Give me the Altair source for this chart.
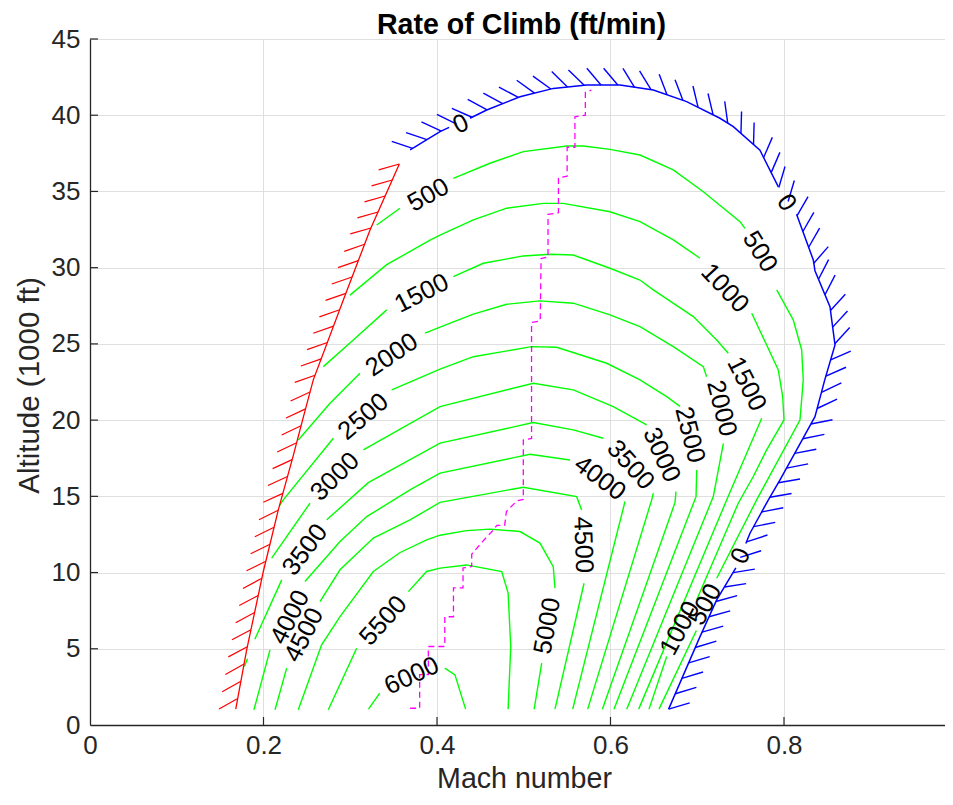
import altair as alt
import pandas as pd
import numpy as np

FONT = "Liberation Sans"

# ---------------- data (Mach number, altitude in 1000 ft) ----------------
# contour lines, split where the inline labels sit
c500 = [
    [(0.3305, 32.8), (0.3573, 33.9)],
    [(0.4188, 35.86), (0.4611, 36.85), (0.4995, 37.61), (0.5495, 37.98), (0.5687, 37.98),
     (0.5994, 37.76), (0.634, 37.39), (0.6724, 36.41), (0.707, 34.98), (0.7493, 33.02), (0.755, 32.58)],
    [(0.7916, 28.54), (0.8107, 26.57), (0.8204, 24.6), (0.8222, 22.64), (0.8184, 20.01),
     (0.7685, 14.77), (0.7224, 9.63)],
    [(0.699, 6.2), (0.6559, 1.04)],
]
c1000 = [
    [(0.2997, 28.2), (0.342, 30.2), (0.392, 31.8), (0.4035, 32.14), (0.4419, 33.13), (0.4803, 33.9),
     (0.5225, 34.22), (0.5456, 34.22), (0.5994, 33.67), (0.634, 33.02), (0.6724, 31.82), (0.7032, 30.62)],
    [(0.7628, 27.01), (0.78, 24.93), (0.7934, 23.29), (0.7985, 21.54), (0.80, 20.01), (0.78, 18.05),
     (0.7646, 16.3), (0.7473, 14.55), (0.6994, 8.21)],
    [(0.6648, 4.49), (0.6444, 1.04)],
]
c1500 = [
    [(0.269, 23.51), (0.3035, 25.26), (0.342, 27.23)],
    [(0.4188, 29.41), (0.4534, 30.29), (0.4995, 30.77), (0.5303, 30.88), (0.5571, 30.83), (0.5994, 29.96),
     (0.634, 29.19), (0.6493, 28.54), (0.6955, 26.79), (0.7224, 25.26), (0.7358, 24.39)],
    [(0.7743, 20.12), (0.734, 14.77), (0.6325, 1.04)],
]
c2000 = [
    [(0.2401, 18.7), (0.2767, 21.1), (0.3112, 23.08)],
    [(0.3862, 25.7), (0.4035, 26.1), (0.4419, 26.95), (0.4803, 27.6), (0.5187, 27.82), (0.5571, 27.67),
     (0.5994, 26.9), (0.634, 26.13), (0.6724, 24.82), (0.707, 23.51), (0.7108, 22.85)],
    [(0.7301, 18.48), (0.7185, 14.98), (0.6187, 1.04)],
]
c2500 = [
    [(0.2182, 14.37), (0.2228, 14.77), (0.2805, 18.81)],
    [(0.3478, 21.98), (0.4035, 23.35), (0.4419, 24.16), (0.5091, 24.82), (0.538, 24.78), (0.5956, 23.73),
     (0.634, 22.64), (0.6648, 21.54), (0.6801, 20.9)],
    [(0.6994, 16.73), (0.6986, 14.98), (0.604, 1.04)],
]
c3000 = [
    [(0.2094, 10.95), (0.2536, 14.55)],
    [(0.3151, 18.05), (0.4035, 20.89), (0.511, 22.42), (0.5571, 21.98), (0.6032, 20.89), (0.6417, 19.69)],
    [(0.6755, 15.31), (0.6744, 14.6), (0.5906, 1.04)],
]
c3500 = [
    [(0.178, 3.84), (0.1815, 4.35)],
    [(0.19, 5.63), (0.221, 9.52)],
    [(0.2729, 13.46), (0.3208, 15.9), (0.4035, 18.49), (0.511, 19.84), (0.5571, 19.36), (0.5917, 18.81)],
    [(0.6494, 15.2), (0.6475, 14.77), (0.5737, 1.04)],
]
c4000 = [
    [(0.189, 1.0), (0.2075, 4.93)],
    [(0.2478, 9.41), (0.2882, 12.03), (0.319, 13.67), (0.3689, 15.42), (0.4035, 16.52), (0.5072, 17.76),
     (0.5533, 17.38)],
    [(0.6167, 14.66), (0.5564, 1.04)],
]
c4500 = [
    [(0.2133, 1.0), (0.2267, 3.73)],
    [(0.2651, 8.1), (0.2882, 10.18), (0.3266, 12.26), (0.3689, 13.46), (0.4035, 14.6), (0.4995, 15.6),
     (0.561, 14.98), (0.5667, 14.1)],
    [(0.5695, 9.3), (0.536, 1.04)],
]
c5000 = [
    [(0.2401, 1.0), (0.267, 5.26), (0.2882, 7.11), (0.3266, 10.07), (0.357, 11.3), (0.388, 12.15),
     (0.4035, 12.45), (0.434, 12.75), (0.461, 12.85), (0.4957, 12.69), (0.5187, 11.93), (0.534, 10.39),
     (0.536, 8.98)],
    [(0.5207, 4.06), (0.512, 1.04)],
]
c5500 = [
    [(0.2747, 1.0), (0.3074, 5.04)],
    [(0.367, 8.75), (0.388, 10.07), (0.4035, 10.29), (0.434, 10.5), (0.4746, 10.07), (0.482, 8.65),
     (0.485, 5.15), (0.482, 1.04)],
]
c6000 = [
    [(0.321, 1.04), (0.334, 2.09)],
    [(0.409, 3.73), (0.4207, 3.29), (0.433, 1.04)],
]
contours = {500: c500, 1000: c1000, 1500: c1500, 2000: c2000, 2500: c2500, 3000: c3000,
            3500: c3500, 4000: c4000, 4500: c4500, 5000: c5000, 5500: c5500, 6000: c6000}

# zero rate-of-climb boundary (blue), split at its three "0" labels
zero_line = [
    [(0.369, 37.72), (0.4035, 38.92), (0.414, 39.2)],
    [(0.438, 39.8), (0.4573, 40.34), (0.4957, 41.21), (0.5341, 41.76), (0.5726, 41.98), (0.611, 41.98),
     (0.6494, 41.65), (0.6878, 40.89), (0.7262, 39.8), (0.7416, 39.25), (0.7723, 37.7), (0.7935, 35.3)],
    [(0.8145, 33.5), (0.8338, 30.5), (0.8357, 29.8), (0.853, 27.44), (0.8588, 24.93), (0.847, 22.64),
     (0.8357, 20.23), (0.8146, 18.05), (0.7954, 16.08), (0.782, 14.77), (0.7608, 12.58), (0.756, 11.9)],
    [(0.7445, 10.3), (0.7224, 8.21), (0.7032, 5.8), (0.667, 1.04)],
]
# stall boundary (red)
stall_line = [(0.168, 1.04), (0.1806, 4.93), (0.1998, 10.07), (0.217, 14.1), (0.234, 17.6), (0.245, 20.0),
              (0.2574, 22.64), (0.292, 27.88), (0.3228, 32.47), (0.3566, 36.8)]
# speed for best climb (magenta, dashed)
best_climb = [(0.369, 1.1), (0.380, 1.1), (0.380, 3.3), (0.390, 3.3), (0.390, 5.15), (0.409, 5.15),
              (0.409, 7.1), (0.419, 7.1), (0.419, 9.0), (0.430, 9.0), (0.430, 10.3), (0.440, 10.4),
              (0.440, 11.2), (0.452, 12.0), (0.465, 12.8), (0.469, 13.1), (0.478, 13.1), (0.480, 14.0),
              (0.492, 14.7), (0.4995, 14.8), (0.4995, 18.7), (0.509, 18.8), (0.509, 26.4), (0.519, 26.5),
              (0.520, 30.6), (0.528, 30.7), (0.528, 33.5), (0.540, 33.6), (0.540, 35.9), (0.550, 36.0),
              (0.550, 37.9), (0.559, 37.9), (0.559, 39.9), (0.571, 40.0), (0.571, 41.5), (0.578, 41.65)]

# contour labels
label_text = ["0", "500", "1500", "2000", "2500", "3000", "3500", "4000", "4500", "5500", "6000",
              "1000", "500", "0", "1500", "2000", "2500", "3000", "3500", "4000", "4500", "5000",
              "1000", "500", "0"]
label_mach = [0.4273, 0.39, 0.3823, 0.3478, 0.3151, 0.2824, 0.2478, 0.2305, 0.2467, 0.3381, 0.3708,
              0.732, 0.7723, 0.8031, 0.757, 0.7282, 0.6916, 0.659, 0.6233, 0.5879, 0.5687, 0.5272,
              0.6801, 0.709, 0.7501]
label_alt = [39.42, 34.77, 28.32, 24.28, 20.23, 16.3, 11.49, 7.07, 5.91, 6.85, 3.23,
             28.65, 31.05, 34.26, 22.37, 20.78, 19.03, 17.72, 17.06, 16.19, 11.82, 6.5,
             6.35, 7.9, 11.1]
label_angle = [335, 331, 333, 326, 320, 315, 307, 297, 297, 312, 335,
               47, 58, 56, 63, 76, 76, 66, 48, 37, 88, 280,
               298, 298, 296]

chart_title = ["Rate of Climb (ft/min)"]
x_ticks = [0, 0.2, 0.4, 0.6, 0.8]
y_ticks = [0, 5, 10, 15, 20, 25, 30, 35, 40, 45]

# ---------------- layout ----------------
W, H = 855, 686
XMAX = 0.9856
YMAX = 45
SX, SY = W / XMAX, H / YMAX


def line_rows(segments, prefix):
    rows = []
    for s, seg in enumerate(segments):
        for k, (m, h) in enumerate(seg):
            rows.append(dict(seg=f"{prefix}{s}", o=k, M=m, h=h))
    return rows


def hatch_rows(pts, spacing, length, rot_deg):
    P = np.array([[m * SX, -h * SY] for m, h in pts], dtype=float)
    d = np.diff(P, axis=0)
    L = np.hypot(d[:, 0], d[:, 1])
    cum = np.concatenate([[0.0], np.cumsum(L)])
    a = np.deg2rad(rot_deg)
    rows = []
    s = cum[-1]
    while s >= 0:
        i = int(np.searchsorted(cum, s, side="right") - 1)
        i = min(max(i, 0), len(L) - 1)
        t = (s - cum[i]) / L[i]
        p = P[i] + t * d[i]
        u = d[i] / L[i]
        v = np.array([u[0] * np.cos(a) - u[1] * np.sin(a), u[0] * np.sin(a) + u[1] * np.cos(a)])
        q = p + length * v
        rows.append(dict(M=p[0] / SX, h=-p[1] / SY, M2=q[0] / SX, h2=-q[1] / SY))
        s -= spacing
    return rows


green_rows = []
for lvl, segs in contours.items():
    green_rows += line_rows(segs, f"c{lvl}_")
df_green = pd.DataFrame(green_rows)
df_blue = pd.DataFrame(line_rows(zero_line, "z"))
df_red = pd.DataFrame(line_rows([stall_line], "s"))
df_mag = pd.DataFrame(line_rows([best_climb], "m"))
blue_full = [p for seg in zero_line for p in seg]
df_bh = pd.DataFrame(hatch_rows(blue_full, 16.8, 22, -130))
df_rh = pd.DataFrame(hatch_rows(stall_line, 17.5, 21.5, -130))
df_lab = pd.DataFrame(dict(t=label_text, M=label_mach, h=label_alt, a=label_angle))
df_xt = pd.DataFrame(dict(M=x_ticks[1:]))
df_yt = pd.DataFrame(dict(h=y_ticks[1:]))
df_title = pd.DataFrame(dict(t=chart_title))

xs = alt.Scale(domain=[0, XMAX], nice=False, zero=False)
ys = alt.Scale(domain=[0, YMAX], nice=False, zero=False)

x_axis = alt.Axis(values=x_ticks, labelExpr="datum.value == 0 ? '0' : format(datum.value, '.1f')",
                  grid=True, gridColor="#dfdfdf", gridWidth=1, domainColor="#262626", domainWidth=1.3,
                  tickSize=0, labelFont=FONT, labelFontSize=26, labelColor="#262626", labelPadding=7,
                  labelFlush=False, title="Mach number", titleFont=FONT, titleFontSize=28.6,
                  titleFontWeight="normal", titleColor="#262626", titleX=434, titleY=62,
                  titleAlign="center", titleBaseline="alphabetic")
y_axis = alt.Axis(values=y_ticks, grid=True, gridColor="#dfdfdf", gridWidth=1, domainColor="#262626",
                  domainWidth=1.3, tickSize=0, labelFont=FONT, labelFontSize=26, labelColor="#262626",
                  labelPadding=10, labelFlush=False, title="Altitude (1000 ft)", titleFont=FONT,
                  titleFontSize=29.5, titleFontWeight="normal", titleColor="#262626", titleX=-61,
                  titleY=H / 2 + 3, titleAngle=270, titleAlign="center", titleBaseline="middle")

X = alt.X("M:Q", scale=xs, axis=x_axis)
Y = alt.Y("h:Q", scale=ys, axis=y_axis)

green = alt.Chart(df_green).mark_line(color="#00ff00", strokeWidth=1.4).encode(
    x=X, y=Y, detail="seg:N", order="o:Q")
blue = alt.Chart(df_blue).mark_line(color="#0000ff", strokeWidth=1.5).encode(
    x=X, y=Y, detail="seg:N", order="o:Q")
red = alt.Chart(df_red).mark_line(color="#ff0000", strokeWidth=1.3).encode(
    x=X, y=Y, detail="seg:N", order="o:Q")
mag = alt.Chart(df_mag).mark_line(color="#ff00ff", strokeWidth=1.3, strokeDash=[6, 4]).encode(
    x=X, y=Y, detail="seg:N", order="o:Q")
bh = alt.Chart(df_bh).mark_rule(color="#0000ff", strokeWidth=1.4).encode(
    x=X, y=Y, x2="M2:Q", y2="h2:Q")
rh = alt.Chart(df_rh).mark_rule(color="#ff0000", strokeWidth=1.2).encode(
    x=X, y=Y, x2="M2:Q", y2="h2:Q")
labels = alt.Chart(df_lab).mark_text(font=FONT, fontSize=25.5, color="black", align="center",
                                      baseline="middle").encode(
    x=X, y=Y, text="t:N", angle=alt.Angle("a:Q", scale=None))
xt = alt.Chart(df_xt).mark_rule(color="#262626", strokeWidth=1.2).encode(
    x=X, y=alt.value(H), y2=alt.value(H - 8))
yt = alt.Chart(df_yt).mark_rule(color="#262626", strokeWidth=1.2).encode(
    y=Y, x=alt.value(0), x2=alt.value(8))
title = alt.Chart(df_title).mark_text(font=FONT, fontSize=28.6, fontWeight="bold", color="black",
                                       align="center", baseline="alphabetic").encode(
    text="t:N", x=alt.value(W / 2 + 4), y=alt.value(-5))

chart = alt.layer(green, blue, red, mag, bh, rh, labels, xt, yt, title).properties(
    width=W, height=H,
    autosize=alt.AutoSizeParams(type="none"),
    padding={"left": 82, "top": 31, "right": 0, "bottom": 68},
).configure_view(strokeWidth=0)

chart.save("out.html", embed_options={"renderer": "svg", "actions": False})
